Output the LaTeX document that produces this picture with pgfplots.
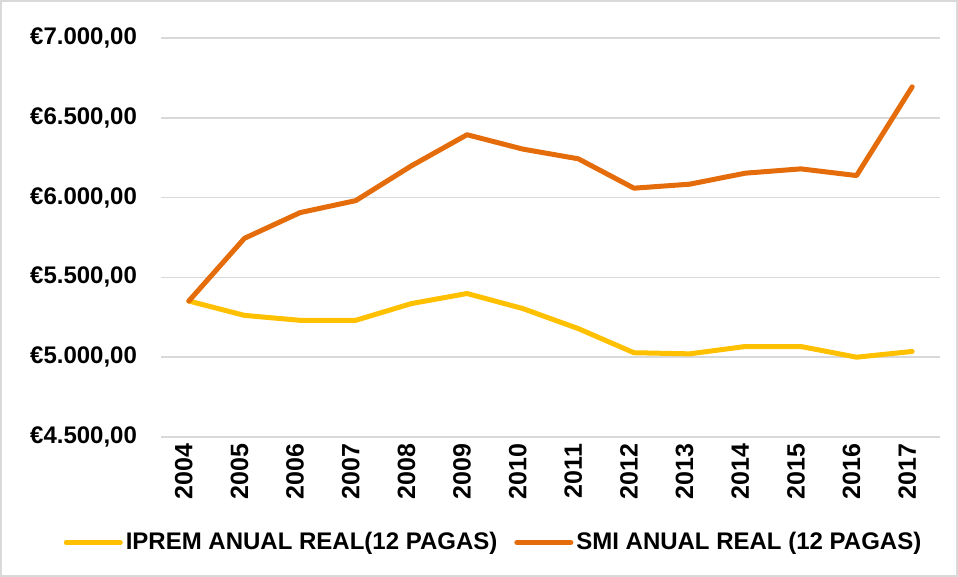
\documentclass[border=0pt]{standalone}
\usepackage{fontspec}
\setmainfont{Liberation Sans}
\usepackage{pgfplots}
\pgfplotsset{compat=1.18}
\definecolor{iprem}{HTML}{FFC000}
\definecolor{smi}{HTML}{E46C0A}
\definecolor{gridc}{HTML}{D9D9D9}
\begin{document}
\begin{tikzpicture}
\useasboundingbox (0,0) rectangle (479pt,288.5pt);
\draw[gridc, line width=0.6pt] (0.5pt,0.5pt) rectangle (478.5pt,288pt);
\begin{axis}[
  at={(80.5pt,70pt)}, anchor=south west,
  scale only axis, width=389.5pt, height=199.5pt,
  xmin=-0.5, xmax=13.5, ymin=4500, ymax=7000,
  xtick={0,...,13},
  xticklabels={2004,2005,2006,2007,2008,2009,2010,2011,2012,2013,2014,2015,2016,2017},
  x tick label style={rotate=90, anchor=east, yshift=2.5pt, font=\bfseries\fontsize{12.5}{13}\selectfont},
  ytick={4500,5000,5500,6000,6500,7000},
  yticklabels={{€4.500,00},{€5.000,00},{€5.500,00},{€6.000,00},{€6.500,00},{€7.000,00}},
  y tick label style={font=\bfseries\fontsize{12}{13}\selectfont, xshift=-8.5pt},
  ymajorgrids, grid style={gridc, line width=0.75pt},
  axis line style={draw=none},
  major tick length=0pt,
  /pgf/number format/assume math mode=true,
  legend style={at={(0.4275,-0.2644)}, anchor=center, draw=none, fill=none,
    legend columns=2, font=\bfseries\fontsize{12}{13}\selectfont,
    nodes={inner sep=1.5pt},
    /tikz/every even column/.append style={column sep=7pt}},
  legend image code/.code={\draw[#1, line width=2.5pt, line cap=round] (0pt,0pt) -- (27pt,0pt);},
]
\addplot[iprem, line width=2.5pt, line join=round, line cap=round] coordinates {
(0,5352)(1,5262)(2,5231)(3,5231)(4,5336)(5,5399)(6,5305)(7,5179)(8,5028)(9,5021)(10,5067)(11,5067)(12,5000)(13,5036)};
\addlegendentry{IPREM ANUAL REAL(12 PAGAS)}
\addplot[smi, line width=2.5pt, line join=round, line cap=round] coordinates {
(0,5352)(1,5745)(2,5906)(3,5981)(4,6199)(5,6394)(6,6304)(7,6243)(8,6059)(9,6084)(10,6153)(11,6180)(12,6138)(13,6694)};
\addlegendentry{SMI ANUAL REAL (12 PAGAS)}
\end{axis}
\end{tikzpicture}
\end{document}
